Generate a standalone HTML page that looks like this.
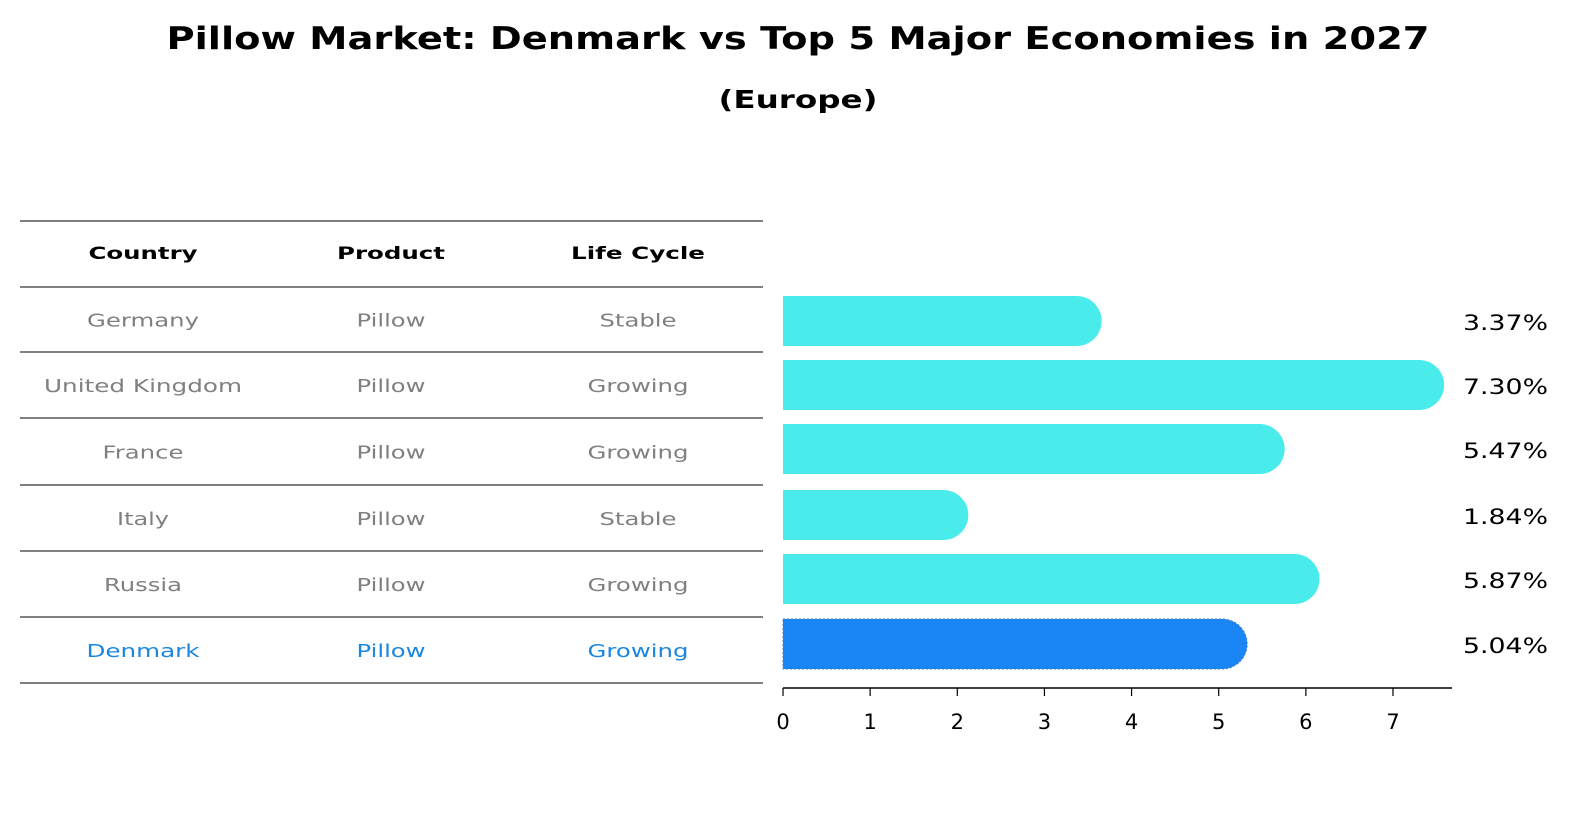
<!DOCTYPE html>
<html><head><meta charset="utf-8"><style>
html,body{margin:0;padding:0;background:#fff;overflow:hidden;width:1586px;height:823px}
svg{display:block}
</style></head><body>
<svg width="1586" height="823" xmlns="http://www.w3.org/2000/svg" font-family="'DejaVu Sans','Liberation Sans',sans-serif">
<text x="798" y="49" text-anchor="middle" font-size="31" font-weight="bold" textLength="1263" lengthAdjust="spacingAndGlyphs">Pillow Market: Denmark vs Top 5 Major Economies in 2027</text>
<text x="798" y="108" text-anchor="middle" font-size="25" font-weight="bold" textLength="159" lengthAdjust="spacingAndGlyphs">(Europe)</text>
<g id="table"></g>
<g id="bars"></g>
</svg>
<script>
const countries=["Germany","United Kingdom","France","Italy","Russia","Denmark"];
const products=["Pillow","Pillow","Pillow","Pillow","Pillow","Pillow"];
const lifecycle=["Stable","Growing","Growing","Stable","Growing","Growing"];
const values=[3.37,7.30,5.47,1.84,5.87,5.04];
const ticks=[0,1,2,3,4,5,6,7];
const NS="http://www.w3.org/2000/svg";
const widths={"Country":109,"Product":108,"Life Cycle":134,"Germany":112,"United Kingdom":198,"France":81,"Italy":52,"Russia":78,"Denmark":113,"Pillow":69,"Stable":77,"Growing":101};
function mk(t,a,p){const e=document.createElementNS(NS,t);for(const k in a)e.setAttribute(k,a[k]);p.appendChild(e);return e;}
const tb=document.getElementById('table');
const lines=[221,287,352,418,485,551,617,683];
lines.forEach(y=>{const l=mk('line',{x1:20,x2:763,y1:y,y2:y,stroke:'#000','stroke-width':1},tb);

});
const cx=[143,391,638];
["Country","Product","Life Cycle"].forEach((h,i)=>{const t=mk('text',{x:cx[i],y:259,'text-anchor':'middle','font-size':17,'font-weight':'bold',textLength:widths[h],lengthAdjust:'spacingAndGlyphs'},tb);t.textContent=h;

});
countries.forEach((c,r)=>{const y=(lines[r+1]+lines[r+2])/2+7;const col=r===5?'#1a87e0':'#808080';
[c,products[r],lifecycle[r]].forEach((v,i)=>{const t=mk('text',{x:cx[i],y:y,'text-anchor':'middle','font-size':18,fill:col,textLength:widths[v]||80,lengthAdjust:'spacingAndGlyphs'},tb);t.textContent=v;

});});
const bg=document.getElementById('bars');
const x0=783,unit=610/7;const X=v=>x0+v*unit;
const centers=[321,385,449,515,579,644];const h=50,r=25;
values.forEach((v,i)=>{const y=centers[i]-h/2;const xe=X(v);
const fill=i===5?'#1a85f5':'#4aeceb';
const p=mk('path',{d:`M${x0},${y}H${xe}A${r},${r} 0 0 1 ${xe},${y+h}H${x0}Z`,fill:fill},bg);
if(i===5){p.setAttribute('stroke','#3a7fd0');p.setAttribute('stroke-dasharray','2,2');p.setAttribute('stroke-width','1');}


const t=mk('text',{x:1463,y:centers[i]+9,'font-size':21,textLength:85,lengthAdjust:'spacingAndGlyphs'},bg);t.textContent=v.toFixed(2)+'%';

});
const ax=mk('line',{x1:x0,x2:1452,y1:688,y2:688,stroke:'#000','stroke-width':1.5},bg);


ticks.forEach(tk=>{const l=mk('line',{x1:X(tk),x2:X(tk),y1:688,y2:696,stroke:'#000','stroke-width':1.2},bg);


const t=mk('text',{x:X(tk),y:729,'text-anchor':'middle','font-size':21},bg);t.textContent=tk;

});
</script>
</body></html>
